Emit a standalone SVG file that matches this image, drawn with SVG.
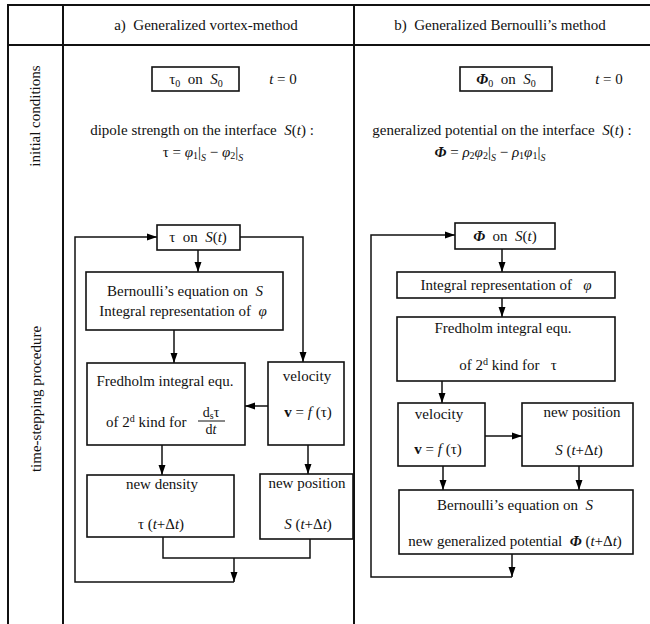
<svg xmlns="http://www.w3.org/2000/svg" width="650" height="624" viewBox="0 0 650 624">
<defs>
<marker id="ah" markerUnits="userSpaceOnUse" markerWidth="10" markerHeight="10" viewBox="0 0 10 10" refX="10" refY="5" orient="auto">
<path d="M0,1.5 L10,5 L0,8.5 Z" fill="#000"/>
</marker>
<style>
text{font-family:"Liberation Serif","Times New Roman",serif;font-size:15px;fill:#111;white-space:pre;}
.m{text-anchor:middle;}
.i{font-style:italic;}
.b{font-weight:bold;}
.sub{font-size:10px;}
.grid{stroke:#111;stroke-width:2;fill:none;}
.box{stroke:#111;stroke-width:1.6;fill:#fff;}
.c{stroke:#111;stroke-width:1.5;fill:none;}
.ca{stroke:#111;stroke-width:1.5;fill:none;marker-end:url(#ah);}
</style>
</defs>
<rect width="650" height="624" fill="#fff"/>

<g id="table">
<line class="grid" x1="7" y1="5" x2="650" y2="5"/>
<line class="grid" x1="7" y1="45" x2="650" y2="45"/>
<line class="grid" x1="8" y1="4" x2="8" y2="624"/>
<line class="grid" x1="63" y1="4" x2="63" y2="624"/>
<line class="grid" x1="354" y1="4" x2="354" y2="624"/>
<text class="m" x="206" y="30">a)  Generalized vortex-method</text>
<text class="m" x="500" y="30">b)  Generalized Bernoulli’s method</text>
<text class="m" transform="translate(40,116) rotate(-90)">initial conditions</text>
<text class="m" transform="translate(41,399) rotate(-90)">time-stepping procedure</text>
</g>

<g id="init-a">
<rect class="box" x="152" y="67" width="87" height="24"/>
<text class="m" x="196" y="84">τ<tspan class="sub" dy="3">0</tspan><tspan dy="-3">  on  </tspan><tspan class="i">S</tspan><tspan class="sub" dy="3">0</tspan></text>
<text class="m" x="283" y="84"><tspan class="i">t</tspan> = 0</text>
<text class="m" x="202" y="135">dipole strength on the interface  <tspan class="i">S</tspan>(<tspan class="i">t</tspan>) :</text>
<text class="m" x="203" y="157">τ = <tspan class="i">φ</tspan><tspan class="sub" dy="2">1</tspan><tspan dy="-2">|</tspan><tspan class="sub i" dy="4">S</tspan><tspan dy="-4"> − </tspan><tspan class="i">φ</tspan><tspan class="sub" dy="2">2</tspan><tspan dy="-2">|</tspan><tspan class="sub i" dy="4">S</tspan></text>
</g>

<g id="init-b">
<rect class="box" x="460" y="67" width="92" height="24"/>
<text class="m" x="506" y="84"><tspan class="i b">Φ</tspan><tspan class="sub" dy="3">0</tspan><tspan dy="-3">  on  </tspan><tspan class="i">S</tspan><tspan class="sub" dy="3">0</tspan></text>
<text class="m" x="609" y="84"><tspan class="i">t</tspan> = 0</text>
<text class="m" x="502" y="135">generalized potential on the interface  <tspan class="i">S</tspan>(<tspan class="i">t</tspan>) :</text>
<text class="m" x="490" y="157"><tspan class="i b">Φ</tspan> = <tspan class="i">ρ</tspan><tspan class="sub" dy="2">2</tspan><tspan class="i" dy="-2">φ</tspan><tspan class="sub" dy="2">2</tspan><tspan dy="-2">|</tspan><tspan class="sub i" dy="4">S</tspan><tspan dy="-4"> − </tspan><tspan class="i">ρ</tspan><tspan class="sub" dy="2">1</tspan><tspan class="i" dy="-2">φ</tspan><tspan class="sub" dy="2">1</tspan><tspan dy="-2">|</tspan><tspan class="sub i" dy="4">S</tspan></text>
</g>

<g id="connectors">
<path class="ca" d="M234,558 V582"/>
<path class="ca" d="M234,582 H75 V237 H157"/>
<path class="ca" d="M240,237 H303 V362"/>
<path class="ca" d="M198,250 V272"/>
<path class="ca" d="M174,330 V363"/>
<path class="ca" d="M268,406 H245"/>
<path class="ca" d="M162,445 V475"/>
<path class="ca" d="M308,445 V474"/>
<path class="c" d="M163,537 V558 H310 V539"/>

<path class="ca" d="M512,554 V577"/>
<path class="ca" d="M512,577 H371 V235 H455"/>
<path class="ca" d="M502,249 V272"/>
<path class="ca" d="M502,298 V317"/>
<path class="ca" d="M442,381 V403"/>
<path class="ca" d="M485,436 H522"/>
<path class="ca" d="M443,466 V490"/>
<path class="ca" d="M579,466 V490"/>
</g>

<g id="a-tau">
<rect class="box" x="157" y="225" width="83" height="25"/>
<text class="m" x="198" y="242">τ  on  <tspan class="i">S</tspan>(<tspan class="i">t</tspan>)</text>
</g>
<g id="a-bernoulli">
<rect class="box" x="86" y="272" width="197" height="58"/>
<text class="m" x="185" y="296">Bernoulli’s equation on  <tspan class="i">S</tspan></text>
<text class="m" x="183" y="316">Integral representation of  <tspan class="i">φ</tspan></text>
</g>
<g id="a-fredholm">
<rect class="box" x="87" y="363" width="158" height="82"/>
<text class="m" x="165" y="386">Fredholm integral equ.</text>
<text x="106" y="427">of 2<tspan class="sub" dy="-5">d</tspan><tspan dy="5"> kind for</tspan></text>
<text class="m" x="211" y="417" style="font-size:14px">d<tspan class="sub" dy="2">s</tspan><tspan dy="-2">τ</tspan></text>
<line class="c" x1="198" y1="421" x2="225" y2="421" style="stroke-width:1"/>
<text class="m" x="211" y="434" style="font-size:14px">d<tspan class="i">t</tspan></text>
</g>
<g id="a-velocity">
<rect class="box" x="268" y="362" width="76" height="83"/>
<text class="m" x="307" y="381">velocity</text>
<text class="m" x="308" y="417"><tspan class="b">v</tspan> = <tspan class="i">f</tspan> (τ)</text>
</g>
<g id="a-density">
<rect class="box" x="87" y="475" width="147" height="62"/>
<text class="m" x="162" y="489">new density</text>
<text class="m" x="161" y="529">τ (<tspan class="i">t</tspan>+Δ<tspan class="i">t</tspan>)</text>
</g>
<g id="a-position">
<rect class="box" x="260" y="474" width="93" height="65"/>
<text class="m" x="307" y="488">new position</text>
<text class="m" x="308" y="529"><tspan class="i">S</tspan> (<tspan class="i">t</tspan>+Δ<tspan class="i">t</tspan>)</text>
</g>

<g id="b-phi">
<rect class="box" x="455" y="223" width="100" height="26"/>
<text class="m" x="505" y="241"><tspan class="i b">Φ</tspan>  on  <tspan class="i">S</tspan>(<tspan class="i">t</tspan>)</text>
</g>
<g id="b-integral">
<rect class="box" x="397" y="272" width="218" height="26"/>
<text class="m" x="506" y="290">Integral representation of   <tspan class="i">φ</tspan></text>
</g>
<g id="b-fredholm">
<rect class="box" x="397" y="317" width="218" height="64"/>
<text class="m" x="503" y="333">Fredholm integral equ.</text>
<text class="m" x="508" y="370">of 2<tspan class="sub" dy="-5">d</tspan><tspan dy="5"> kind for   τ</tspan></text>
</g>
<g id="b-velocity">
<rect class="box" x="398" y="403" width="87" height="63"/>
<text class="m" x="439" y="419">velocity</text>
<text class="m" x="438" y="454"><tspan class="b">v</tspan> = <tspan class="i">f</tspan> (τ)</text>
</g>
<g id="b-position">
<rect class="box" x="522" y="403" width="111" height="63"/>
<text class="m" x="582" y="417">new position</text>
<text class="m" x="579" y="455"><tspan class="i">S</tspan> (<tspan class="i">t</tspan>+Δ<tspan class="i">t</tspan>)</text>
</g>
<g id="b-bernoulli">
<rect class="box" x="399" y="490" width="234" height="64"/>
<text class="m" x="515" y="510">Bernoulli’s equation on  <tspan class="i">S</tspan></text>
<text class="m" x="515" y="546">new generalized potential  <tspan class="i b">Φ</tspan> (<tspan class="i">t</tspan>+Δ<tspan class="i">t</tspan>)</text>
</g>
</svg>
